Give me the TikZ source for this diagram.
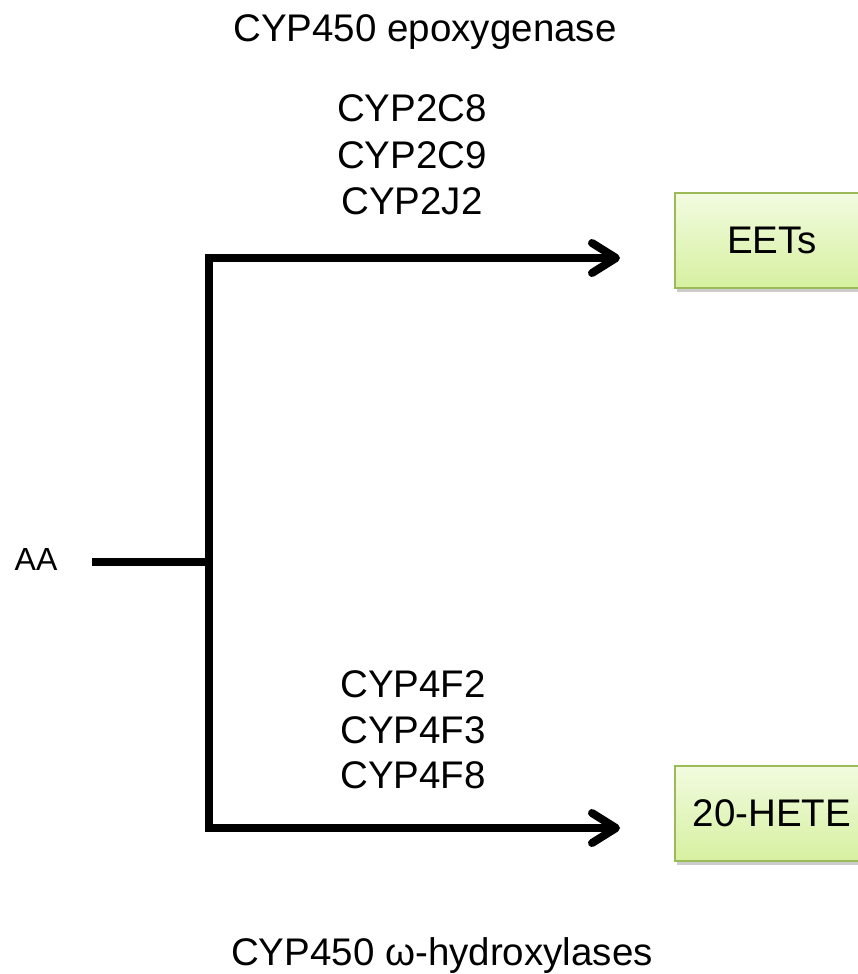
\documentclass[tikz,border=0pt]{standalone}
\usepackage{fontspec}
\setmainfont{Liberation Sans}
\usetikzlibrary{arrows.meta,shadows}
\definecolor{boxborder}{RGB}{155,187,89}
\definecolor{boxtop}{RGB}{242,251,224}
\definecolor{boxbot}{RGB}{214,240,160}
\begin{document}
\begin{tikzpicture}[x=1pt,y=-1pt,
  txt/.style={font=\fontsize{38.5}{46}\selectfont, inner sep=0pt, anchor=base},
  small/.style={font=\fontsize{32}{38}\selectfont, inner sep=0pt, anchor=base},
  prod/.style={draw=boxborder, line width=2pt, top color=boxtop, bottom color=boxbot,
    minimum width=194pt, minimum height=95pt, inner sep=0pt,
    font=\fontsize{38.5}{46}\selectfont,
    drop shadow={opacity=0.4, shadow xshift=2pt, shadow yshift=-4pt}},
  trunk/.style={line width=8pt, line cap=rect},
  arr/.style={line width=8pt, -{Straight Barb[length=24pt, width=30pt, round]}}
]
\useasboundingbox (0,0) rectangle (858,974);
% labels
\node[txt] (epo) at (425,42) {CYP450 epoxygenase};
\node[txt] (c1) at (412,121) {CYP2C8};
\node[txt] (c2) at (412,168) {CYP2C9};
\node[txt] (c3) at (412,214) {CYP2J2};
\node[txt] (f1) at (413,697) {CYP4F2};
\node[txt] (f2) at (413,743) {CYP4F3};
\node[txt] (f3) at (413,788) {CYP4F8};
\node[txt] (hyd) at (442,965) {CYP450 ω-hydroxylases};
\node[small] (aa) at (36,570) {AA};
% products
\node[prod] (eets) at (772,240.5) {EETs};
\node[prod] (hete) at (772,813) {20-HETE};
% connectors
\coordinate (aaEnd) at (92,562);
\coordinate (junc) at (209,562);
\coordinate (vtop) at (209,258);
\coordinate (vbot) at (209,828);
\coordinate (tip1) at (620,258);
\coordinate (tip2) at (620,828);
\draw[trunk] (vtop) -- (vbot);
\draw[line width=8pt] (aaEnd) -- (junc);
\draw[arr] (vtop) -- (tip1);
\draw[arr] (vbot) -- (tip2);
\end{tikzpicture}
\end{document}
